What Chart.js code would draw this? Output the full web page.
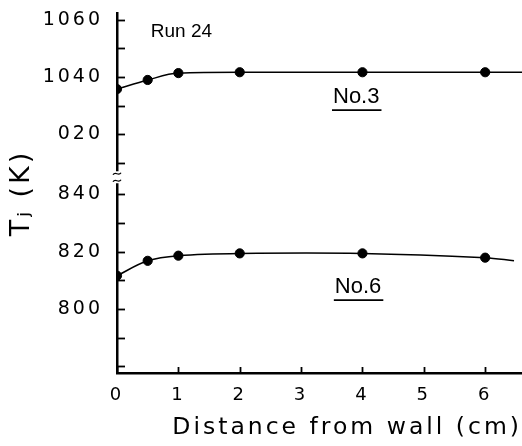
<!DOCTYPE html>
<html>
<head>
<meta charset="utf-8">
<script src="https://cdn.jsdelivr.net/npm/chart.js@4/dist/chart.umd.min.js"></script>
<style>
  html, body { margin: 0; padding: 0; background: #fff; }
  #wrap { width: 522px; height: 446px; }
</style>
</head>
<body>
<div id="wrap"><canvas id="c" width="522" height="446"></canvas></div>
<script>
// ---- data ----
const distanceCm = [0, 0.5, 1, 2, 4, 6];
const tempNo3 = [1035.8, 1039.0, 1041.4, 1041.7, 1041.7, 1041.7];
const tempNo6 = [811.6, 816.8, 818.6, 819.4, 819.4, 817.9];
// fitted curves drawn through the points (curve end)
const curveXNo3 = [0, 0.5, 1, 2, 4, 6, 6.6];
const curveNo3 = [1035.8, 1039.0, 1041.4, 1041.7, 1041.7, 1041.7, 1041.7];
const curveXNo6 = [0, 0.5, 1, 2, 4, 6, 6.47];
const curveNo6 = [811.6, 816.8, 818.6, 819.4, 819.4, 817.9, 816.8];
const xTickValues = [0, 1, 2, 3, 4, 5, 6];
const yTickValues = [780, 790, 800, 810, 820, 830, 840, 1010, 1020, 1030, 1040, 1050, 1060];
const yTickLabels = { 800: '800', 820: '820', 840: '840', 1020: '020', 1040: '1040', 1060: '1060' };
const upperStart = 1000;    // values above this belong to the upper (broken) segment
const breakShift = 159;     // upper segment is shifted down by this on the axis

const toAxis = v => (v > upperStart ? v - breakShift : v);
const fromAxis = v => (v > upperStart - breakShift + 10 ? v + breakShift : v);
const pts = (xs, ys) => xs.map((x, i) => ({ x: x, y: toAxis(ys[i]) }));

const decor = {
  id: 'decor',
  beforeDraw(chart) { chart.ctx.letterSpacing = '3px'; },
  afterDraw(chart) {
    const ctx = chart.ctx, x = chart.scales.x, y = chart.scales.y;
    const ca = chart.chartArea;
    ctx.save();
    ctx.letterSpacing = '0px';
    ctx.strokeStyle = '#000';
    ctx.lineWidth = 1.8;
    // inward tick marks
    y.ticks.forEach(t => {
      const py = Math.round(y.getPixelForValue(t.value)) + 0.5;
      ctx.beginPath(); ctx.moveTo(ca.left, py); ctx.lineTo(ca.left + 8, py); ctx.stroke();
    });
    x.ticks.forEach(t => {
      const px = Math.round(x.getPixelForValue(t.value)) + 0.5;
      ctx.beginPath(); ctx.moveTo(px, ca.bottom); ctx.lineTo(px, ca.bottom - 6); ctx.stroke();
    });
    // axis break symbol
    const yb = y.getPixelForValue(846);
    const ax = ca.left;
    ctx.fillStyle = '#fff';
    ctx.fillRect(ax - 3, yb - 6, 6, 12);
    ctx.lineWidth = 1.3;
    [-3.5, 3.5].forEach(d => {
      ctx.beginPath();
      ctx.moveTo(ax - 4, yb + d + 1);
      ctx.bezierCurveTo(ax - 1.5, yb + d - 3, ax + 1.5, yb + d + 3, ax + 4, yb + d - 1);
      ctx.stroke();
    });
    // annotations
    ctx.fillStyle = '#000';
    ctx.textBaseline = 'middle';
    ctx.textAlign = 'left';
    ctx.font = '19px "Liberation Sans"';
    ctx.fillText('Run 24', x.getPixelForValue(0.55), y.getPixelForValue(toAxis(1055.8)));
    ctx.font = '22px "Liberation Sans"';
    const lab = (txt, xv, yv) => {
      const px = x.getPixelForValue(xv), py = y.getPixelForValue(toAxis(yv));
      ctx.fillText(txt, px, py);
      const w = ctx.measureText(txt).width;
      ctx.lineWidth = 1.6;
      ctx.beginPath(); ctx.moveTo(px - 1, py + 13); ctx.lineTo(px + w + 2, py + 13); ctx.stroke();
    };
    lab('No.3', 3.52, 1033);
    lab('No.6', 3.55, 807.6);
    ctx.restore();
  }
};

new Chart(document.getElementById('c'), {
  type: 'scatter',
  data: {
    datasets: [
      { data: pts(curveXNo3, curveNo3), showLine: true, pointRadius: 0, borderColor: '#000', borderWidth: 1.5, cubicInterpolationMode: 'monotone', tension: 0.4 },
      { data: pts(curveXNo6, curveNo6), showLine: true, pointRadius: 0, borderColor: '#000', borderWidth: 1.5, tension: 0.35 },
      { data: pts(distanceCm, tempNo3), showLine: false, pointRadius: 4.6, backgroundColor: '#000', borderColor: '#000' },
      { data: pts(distanceCm, tempNo6), showLine: false, pointRadius: 4.6, backgroundColor: '#000', borderColor: '#000' }
    ]
  },
  options: {
    responsive: false,
    animation: false,
    layout: { autoPadding: false, padding: { top: 13, right: 0, left: 0, bottom: 0 } },
    plugins: { legend: { display: false }, tooltip: { enabled: false } },
    scales: {
      x: {
        type: 'linear', min: 0, max: 6.6,
        afterBuildTicks: s => { s.ticks = xTickValues.map(v => ({ value: v })); },
        afterFit: s => { s.height = 73; s.paddingLeft = 0; s.paddingRight = 0; },
        grid: { drawOnChartArea: false, drawTicks: false, color: 'rgba(0,0,0,0)' },
        border: { display: true, color: '#000', width: 2.5 },
        ticks: { color: '#000', font: { family: 'DejaVu Sans', size: 18 }, padding: 12, maxRotation: 0, callback: v => String(v) },
        title: { display: true, text: 'Distance from wall (cm)', align: 'end', color: '#000', font: { family: 'DejaVu Sans', size: 23.5 }, padding: { top: 0, bottom: 4 } }
      },
      y: {
        type: 'linear', min: 777.6, max: 903.4,
        afterBuildTicks: s => { s.ticks = yTickValues.map(v => ({ value: toAxis(v) })); },
        afterFit: s => { s.width = 117; s.paddingTop = 0; s.paddingBottom = 0; s.paddingLeft = 0; s.paddingRight = 0; },
        grid: { drawOnChartArea: false, drawTicks: false, color: 'rgba(0,0,0,0)' },
        border: { display: true, color: '#000', width: 2.5 },
        ticks: { color: '#000', font: { family: 'DejaVu Sans', size: 19 }, padding: 14,
          callback: v => { const r = Math.round(fromAxis(v)); return yTickLabels[r] || ''; } },
        title: { display: true, text: 'Tⱼ (K)', color: '#000', font: { family: 'DejaVu Sans', size: 27 }, padding: { top: 6, bottom: 0 } }
      }
    }
  },
  plugins: [decor]
});
</script>
</body>
</html>
